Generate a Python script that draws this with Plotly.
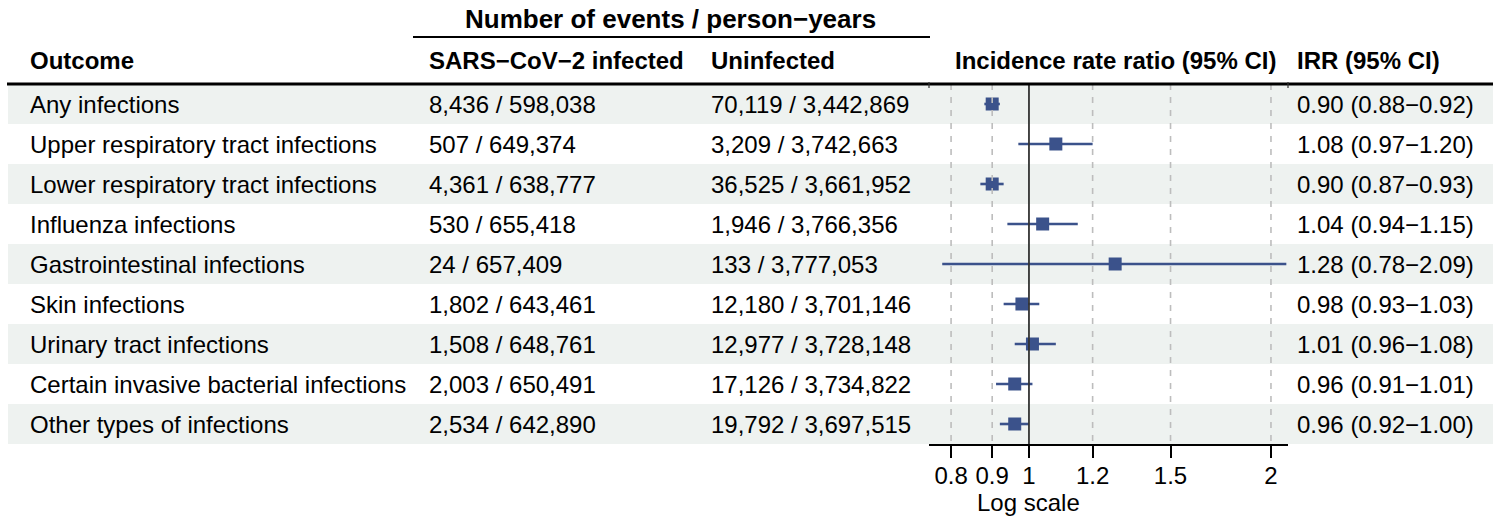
import math
import plotly.graph_objects as go

outcomes = [
    "Any infections",
    "Upper respiratory tract infections",
    "Lower respiratory tract infections",
    "Influenza infections",
    "Gastrointestinal infections",
    "Skin infections",
    "Urinary tract infections",
    "Certain invasive bacterial infections",
    "Other types of infections",
]
inf_events = [8436, 507, 4361, 530, 24, 1802, 1508, 2003, 2534]
inf_py = [598038, 649374, 638777, 655418, 657409, 643461, 648761, 650491, 642890]
uninf_events = [70119, 3209, 36525, 1946, 133, 12180, 12977, 17126, 19792]
uninf_py = [3442869, 3742663, 3661952, 3766356, 3777053, 3701146, 3728148, 3734822, 3697515]
irr = [0.90, 1.08, 0.90, 1.04, 1.28, 0.98, 1.01, 0.96, 0.96]
irr_lo = [0.88, 0.97, 0.87, 0.94, 0.78, 0.93, 0.96, 0.91, 0.92]
irr_hi = [0.92, 1.20, 0.93, 1.15, 2.09, 1.03, 1.08, 1.01, 1.00]
tick_vals = [0.8, 0.9, 1, 1.2, 1.5, 2]
tick_text = ["0.8", "0.9", "1", "1.2", "1.5", "2"]
grid_vals = [0.8, 0.9, 1.2, 1.5, 2]

W, H = 1493, 516
FONT = "Liberation Sans, Arial, Helvetica, sans-serif"
FS = 24
BLUE = "#3B528B"
SHADE = "#EEF2F0"
MINUS = "\u2212"

def px(x):
    return x / W

def py(y):
    return 1 - y / H

n = len(outcomes)
rows = list(range(1, n + 1))

fig = go.Figure()

# CI lines
for i in range(n):
    fig.add_trace(go.Scatter(
        x=[irr_lo[i], irr_hi[i]], y=[rows[i], rows[i]], mode="lines",
        line=dict(color=BLUE, width=2.6), showlegend=False, hoverinfo="skip"))
# point estimates
fig.add_trace(go.Scatter(
    x=irr, y=rows, mode="markers",
    marker=dict(symbol="square", size=13, color=BLUE, line=dict(width=0)),
    showlegend=False, hoverinfo="skip"))
# dashed reference grid lines (drawn on top)
for g in grid_vals:
    fig.add_trace(go.Scatter(
        x=[g, g], y=[0.5, n + 0.5], mode="lines",
        line=dict(color="#BDBDBD", width=1.6, dash="6px,7px"),
        showlegend=False, hoverinfo="skip"))
# null line
fig.add_trace(go.Scatter(
    x=[1, 1], y=[0.5, n + 0.5], mode="lines",
    line=dict(color="#333333", width=1.8), showlegend=False, hoverinfo="skip"))

shapes = []
# row shading
for r in rows:
    if r % 2 == 1:
        shapes.append(dict(type="rect", xref="paper", yref="y",
                           x0=px(8), x1=1, y0=r - 0.5, y1=r + 0.5,
                           fillcolor=SHADE, line=dict(width=0), layer="below"))
# header line under group title
shapes.append(dict(type="line", xref="paper", yref="paper",
                   x0=px(413), x1=px(930), y0=py(37), y1=py(37),
                   line=dict(color="black", width=2)))
# thick header rule
shapes.append(dict(type="line", xref="paper", yref="paper",
                   x0=px(7), x1=1, y0=py(84), y1=py(84),
                   line=dict(color="black", width=3)))
for xx in (929, 1288):
    shapes.append(dict(type="line", xref="paper", yref="paper",
                       x0=px(xx), x1=px(xx), y0=py(82), y1=py(88),
                       line=dict(color="#333333", width=1.2)))

ann = []
def txt(x, y, s, bold=False, xanchor="left", xref="paper", yref="paper", size=FS):
    ann.append(dict(x=x, y=y, xref=xref, yref=yref, text=("<b>%s</b>" % s) if bold else s,
                    showarrow=False, xanchor=xanchor, yanchor="middle",
                    font=dict(family=FONT, size=size, color="black")))

txt(px(670), py(19.5), "Number of events / person" + MINUS + "years", bold=True, xanchor="center", size=26)
txt(px(28), py(61), "Outcome", bold=True)
txt(px(427), py(61), "SARS" + MINUS + "CoV" + MINUS + "2 infected", bold=True)
txt(px(709), py(61), "Uninfected", bold=True)
txt(px(1115), py(61), "Incidence rate ratio (95% CI)", bold=True, xanchor="center")
txt(px(1295), py(61), "IRR (95% CI)", bold=True)

for i in range(n):
    r = rows[i]
    txt(px(28), r, outcomes[i], yref="y")
    txt(px(427), r, "{:,} / {:,}".format(inf_events[i], inf_py[i]), yref="y")
    txt(px(709), r, "{:,} / {:,}".format(uninf_events[i], uninf_py[i]), yref="y")
    txt(px(1295), r, "{:.2f} ({:.2f}{}{:.2f})".format(irr[i], irr_lo[i], MINUS, irr_hi[i]), yref="y")

txt(0, py(502), "Log scale", xanchor="center", xref="x")

fig.update_layout(
    width=W, height=H,
    margin=dict(l=0, r=0, t=0, b=0),
    plot_bgcolor="rgba(0,0,0,0)", paper_bgcolor="white",
    shapes=shapes, annotations=ann, showlegend=False,
    xaxis=dict(type="log", domain=[px(929), px(1288)],
               range=[math.log10(0.751), math.log10(2.10)],
               tickvals=tick_vals, ticktext=tick_text,
               showgrid=False, zeroline=False,
               showline=True, linecolor="black", linewidth=1.5,
               ticks="outside", ticklen=12, tickwidth=1.5, tickcolor="black",
               tickfont=dict(family=FONT, size=FS, color="black"),
               ticklabelstandoff=-3,
               anchor="y", fixedrange=True),
    yaxis=dict(domain=[py(444), py(84)], range=[n + 0.5, 0.5],
               visible=False, fixedrange=True),
)

fig.write_html("out.html",
               config={"displayModeBar": False},
               post_script="document.body.style.margin='0';document.body.style.overflow='hidden';")
